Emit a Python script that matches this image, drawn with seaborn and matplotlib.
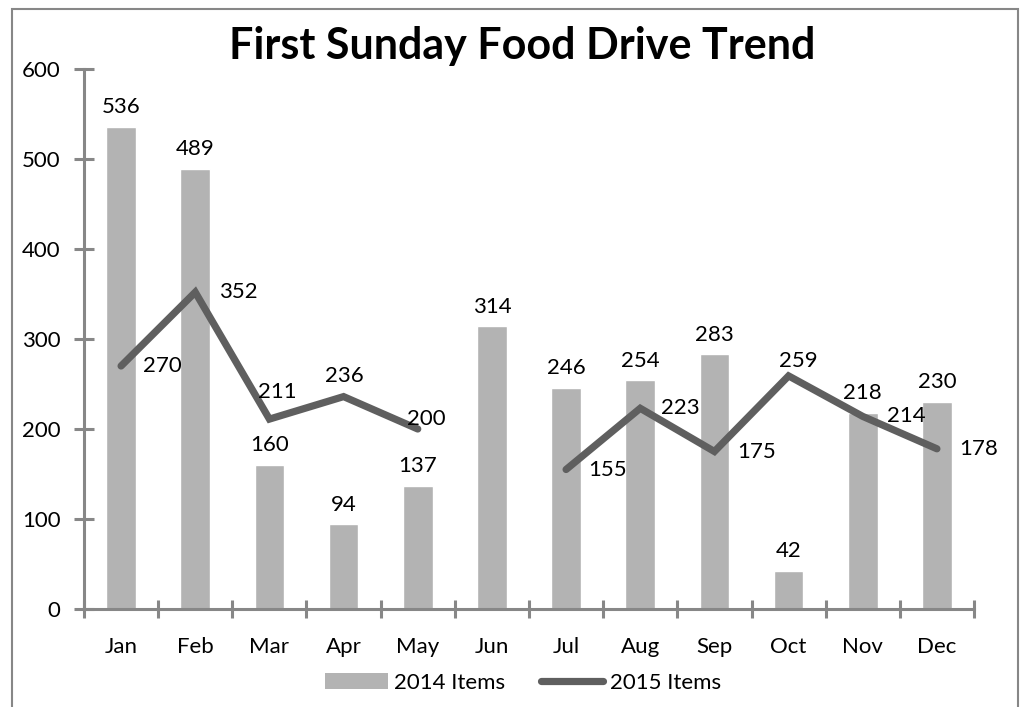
import numpy as np
import pandas as pd
import matplotlib
matplotlib.use("Agg")
import matplotlib.pyplot as plt
import seaborn as sns
from matplotlib.patches import Patch, Rectangle
from matplotlib.lines import Line2D

sns.set_style("white")
plt.rcParams['font.family'] = ['Lato', 'DejaVu Sans']
plt.rcParams['text.color'] = 'black'
plt.rcParams['xtick.color'] = 'black'
plt.rcParams['ytick.color'] = 'black'

# dados
meses = ['Jan', 'Feb', 'Mar', 'Apr', 'May', 'Jun', 'Jul', 'Aug', 'Sep', 'Oct', 'Nov', 'Dec']
itens_2014 = [536, 489, 160, 94, 137, 314, 246, 254, 283, 42, 218, 230]
itens_2015 = [270, 352, 211, 236, 200, np.nan, 155, 223, 175, 259, 214, 178]

# posição dos rótulos da linha (deslocamento em px)
rotulo_2015 = [(22, 0), (24, 0), (8, 27), (1, 21), (9, 10), None,
               (22, 0), (21, 0), (23, 0), (10, 15), (24, 0), (22, 0)]

cor_barra = '#b3b3b3'
cor_linha = '#5f5f5f'
cor_eixo = '#878787'

df = pd.DataFrame({'Mes': meses, 'y2014': itens_2014, 'y2015': itens_2015})
df['pos'] = np.arange(len(meses))
# segmento: quebra a linha onde falta valor (Jun)
df['seg'] = df['y2015'].isna().cumsum()
df_linha = df.dropna(subset=['y2015'])

fig = plt.figure(figsize=(10.26, 7.07), dpi=100)
ax = fig.add_axes([84 / 1026, 98 / 707, 890 / 1026, 540 / 707])

sns.barplot(data=df, x='Mes', y='y2014', color=cor_barra, width=0.40,
            saturation=1, ax=ax)
sns.lineplot(data=df_linha, x='pos', y='y2015', units='seg', estimator=None,
             color=cor_linha, linewidth=5.2, ax=ax, legend=False,
             solid_capstyle='round', solid_joinstyle='miter')

fs = 16
for i, v in enumerate(itens_2014):
    ax.annotate(f'{v}', (i, v), xytext=(0, 7), textcoords='offset points',
                ha='center', va='bottom', fontsize=fs)
for i, v in enumerate(itens_2015):
    if rotulo_2015[i] is None:
        continue
    dx, dy = rotulo_2015[i]
    ha = 'left' if dy == 0 else 'center'
    ax.annotate(f'{int(v)}', (i, v), xytext=(dx * 0.72, dy * 0.72),
                textcoords='offset points', ha=ha, va='center', fontsize=fs)

ax.set_xlim(-0.5, len(meses) - 0.5)
ax.set_ylim(0, 600)
ax.set_yticks(range(0, 601, 100))
ax.set_xlabel('')
ax.set_ylabel('')

for s in ['top', 'right']:
    ax.spines[s].set_visible(False)
for s in ['left', 'bottom']:
    ax.spines[s].set_color(cor_eixo)
    ax.spines[s].set_linewidth(2.2)

ax.set_xticks(np.arange(-0.5, len(meses), 1.0), minor=True)
ax.tick_params(axis='x', which='major', bottom=True, length=0, pad=20, labelsize=fs)
ax.tick_params(axis='x', which='minor', bottom=True, direction='inout', length=13,
               width=2.2, color=cor_eixo)
ax.tick_params(axis='y', left=True, direction='inout', length=14, width=2.2,
               color=cor_eixo, labelcolor='black', labelsize=fs, pad=10)

fig.text(0.509, 1 - 46 / 707, 'First Sunday Food Drive Trend', ha='center',
         va='center', fontsize=31, fontweight='bold')

handles = [Patch(facecolor=cor_barra, edgecolor='none'),
           Line2D([0], [0], color=cor_linha, linewidth=5.2, solid_capstyle='round')]
fig.legend(handles, ['2014 Items', '2015 Items'], loc='center',
           bbox_to_anchor=(0.51, 1 - 683 / 707), ncol=2, frameon=False,
           fontsize=fs, handlelength=2.8, handletextpad=0.3, columnspacing=1.6)

fig.patches.append(Rectangle((12 / 1026, -0.02), 1006 / 1026, 1.0087 - 8 / 707 + 0.01,
                             transform=fig.transFigure, fill=False,
                             edgecolor=cor_eixo, linewidth=1.5))

fig.savefig('out.png', dpi=100)
